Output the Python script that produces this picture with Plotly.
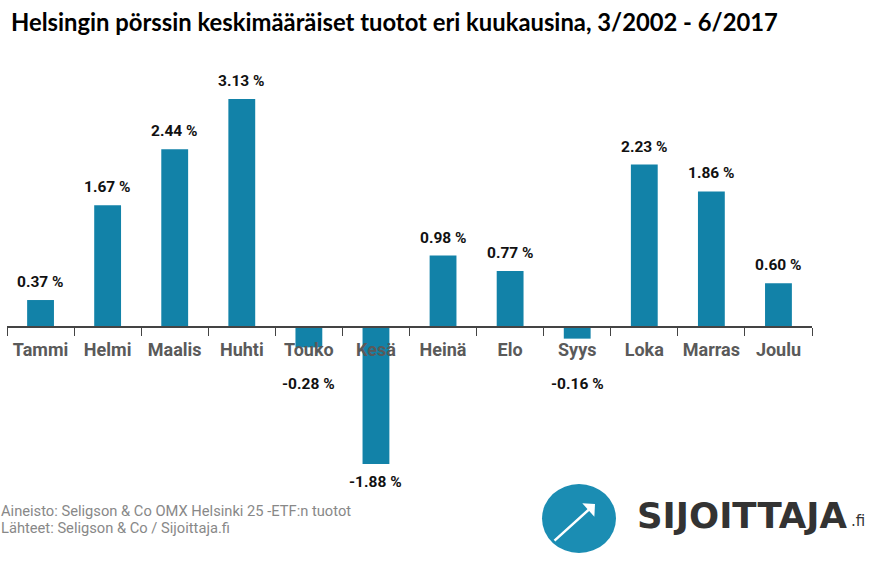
import plotly.graph_objects as go

months = ["Tammi", "Helmi", "Maalis", "Huhti", "Touko", "Kesä",
          "Heinä", "Elo", "Syys", "Loka", "Marras", "Joulu"]
returns = [0.37, 1.67, 2.44, 3.13, -0.28, -1.88, 0.98, 0.77, -0.16, 2.23, 1.86, 0.60]
labels = ["0.37 %", "1.67 %", "2.44 %", "3.13 %", "-0.28 %", "-1.88 %",
          "0.98 %", "0.77 %", "-0.16 %", "2.23 %", "1.86 %", "0.60 %"]

title = "Helsingin pörssin keskimääräiset tuotot eri kuukausina, 3/2002 - 6/2017"
source_lines = ["Aineisto: Seligson & Co OMX Helsinki 25 -ETF:n tuotot",
                "Lähteet: Seligson & Co / Sijoittaja.fi"]

BAR = "#1282a8"
ymin, ymax = -2.375, 3.665

fig = go.Figure(go.Bar(x=months, y=returns, marker_color=BAR, width=0.4,
                       hoverinfo="skip"))

lab_font = dict(family="Roboto", size=15.5, color="#111", weight="bold")
for m, v, t in zip(months, returns, labels):
    if v >= 0:
        fig.add_annotation(x=m, y=v, text=t, showarrow=False, yanchor="bottom",
                           yshift=7, font=lab_font)
    else:
        fig.add_annotation(x=m, y=min(v, -0.53), text=t, showarrow=False, yanchor="top",
                           yshift=-7, font=lab_font)

fig.update_traces(marker_line_width=0)

fig.update_layout(
    width=891, height=564,
    margin=dict(l=7, r=79, t=60, b=64),
    paper_bgcolor="white", plot_bgcolor="white",
    showlegend=False,
    xaxis=dict(anchor="free", position=(0 - ymin) / (ymax - ymin),
               showline=True, linecolor="#444", linewidth=1.5,
               ticks="outside", tickson="boundaries", ticklen=8, tickcolor="#444",
               tickwidth=1.3, tickangle=0,
               tickfont=dict(family="Roboto", size=18, color="#5a5a5a", weight="bold"),
               ticklabelstandoff=7,
               showgrid=False, zeroline=False, range=[-0.5, 11.5]),
    yaxis=dict(range=[ymin, ymax], visible=False, showgrid=False, zeroline=False),
)

fig.add_annotation(text="<b>" + title + "</b>", xref="paper", yref="paper",
                   x=0, y=1, xshift=2, yshift=38, xanchor="left", yanchor="middle",
                   showarrow=False, font=dict(family="Lato", size=23.8, color="#000"))

for i, line in enumerate(source_lines):
    fig.add_annotation(text=line, xref="paper", yref="paper", x=0, y=0,
                       xshift=-8, yshift=-11 - 17 * i, xanchor="left", yanchor="middle",
                       showarrow=False, font=dict(family="Roboto", size=14.7, color="#888"))

# Logo
fig.add_shape(type="circle", xref="paper", yref="paper",
              x0=(542 - 7) / 805, x1=(616 - 7) / 805,
              y0=(500 - 553) / 440, y1=(500 - 484) / 440,
              fillcolor="#1b8db3", line=dict(color="#1b8db3", width=0))
fig.add_annotation(xref="paper", yref="paper", axref="pixel", ayref="pixel",
                   x=(595 - 7) / 805, y=(500 - 504) / 440,
                   ax=-42, ay=38,
                   showarrow=True, arrowhead=1, arrowsize=1.2, arrowwidth=2.5,
                   arrowcolor="white", text="", standoff=0, startstandoff=0)
fig.add_annotation(text="SIJOITTAJA", xref="paper", yref="paper",
                   x=(635 - 7) / 805, y=(500 - 515) / 440, xanchor="left", yanchor="middle",
                   showarrow=False,
                   font=dict(family="DejaVu Sans", size=35.5, color="#333", weight="bold"))
fig.add_annotation(text=".fi", xref="paper", yref="paper",
                   x=(849 - 7) / 805, y=(500 - 521) / 440, xanchor="left", yanchor="middle",
                   showarrow=False, font=dict(family="DejaVu Sans", size=15, color="#333"))

fig.write_html("out.html", post_script="document.body.style.margin='0';",
               config={"displayModeBar": False})
